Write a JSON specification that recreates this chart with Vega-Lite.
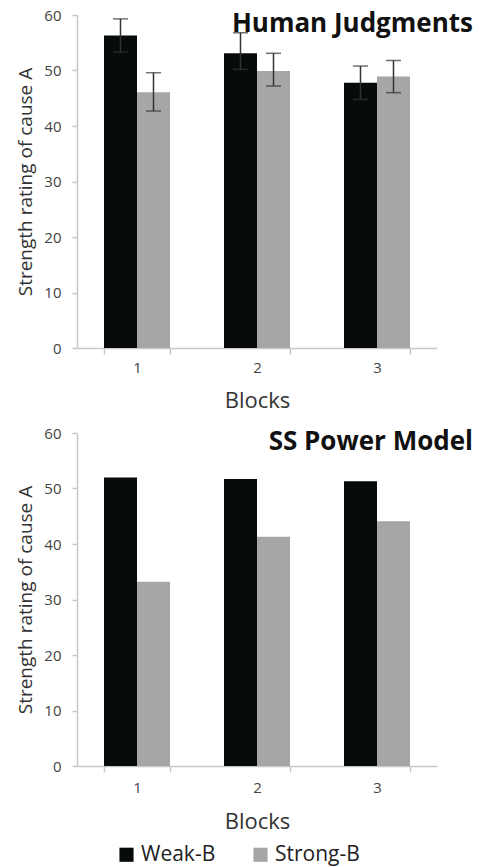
{
  "$schema": "https://vega.github.io/schema/vega-lite/v6.json",
  "padding": {"left": 16, "top": 8, "right": 8, "bottom": 1},
  "datasets": {
    "human": [
      {"block": "1", "group": "Weak-B", "value": 56.3, "lo": 53.3, "hi": 59.3},
      {"block": "1", "group": "Strong-B", "value": 46.1, "lo": 42.7, "hi": 49.6},
      {"block": "2", "group": "Weak-B", "value": 53.1, "lo": 50.2, "hi": 56.8},
      {"block": "2", "group": "Strong-B", "value": 49.9, "lo": 47.2, "hi": 53.1},
      {"block": "3", "group": "Weak-B", "value": 47.8, "lo": 44.8, "hi": 50.8},
      {"block": "3", "group": "Strong-B", "value": 48.9, "lo": 46.0, "hi": 51.8}
    ],
    "model": [
      {"block": "1", "group": "Weak-B", "value": 52.0},
      {"block": "1", "group": "Strong-B", "value": 33.2},
      {"block": "2", "group": "Weak-B", "value": 51.7},
      {"block": "2", "group": "Strong-B", "value": 41.3},
      {"block": "3", "group": "Weak-B", "value": 51.3},
      {"block": "3", "group": "Strong-B", "value": 44.1}
    ]
  },
  "spacing": 15,
  "vconcat": [
    {
      "width": 360,
      "height": 333,
      "title": {"text": "Human Judgments"},
      "data": {"name": "human"},
      "encoding": {
        "x": {"field": "block", "type": "nominal", "title": "Blocks", "scale": {"paddingInner": 0.45, "paddingOuter": 0.225}, "axis": {"labelAngle": 0, "tickBand": "extent"}},
        "xOffset": {"field": "group", "type": "nominal", "sort": ["Weak-B", "Strong-B"], "scale": {"paddingInner": 0}}
      },
      "layer": [
        {
          "mark": {"type": "bar"},
          "encoding": {
            "y": {"field": "value", "type": "quantitative", "title": "Strength rating of cause A", "scale": {"domain": [0, 60]}, "axis": {"values": [0, 10, 20, 30, 40, 50, 60]}},
            "color": {"field": "group", "type": "nominal", "sort": ["Weak-B", "Strong-B"], "scale": {"domain": ["Weak-B", "Strong-B"], "range": ["#070b0b", "#a6a6a6"]}, "legend": {"title": null, "orient": "none", "legendX": 39, "legendY": 829, "direction": "horizontal", "symbolType": "square", "symbolSize": 200, "labelFontSize": 21, "labelFont": "Open Sans", "labelColor": "#222", "columnPadding": 34, "symbolStrokeWidth": 0}}
          }
        },
        {
          "mark": {"type": "rule", "color": "#333", "strokeWidth": 1.5},
          "encoding": {
            "y": {"field": "lo", "type": "quantitative", "title": "Strength rating of cause A", "scale": {"domain": [0, 60]}},
            "y2": {"field": "hi"}
          }
        },
        {
          "mark": {"type": "tick", "color": "#333", "size": 15, "thickness": 1.5},
          "encoding": {
            "y": {"field": "lo", "type": "quantitative", "title": "Strength rating of cause A", "scale": {"domain": [0, 60]}}
          }
        },
        {
          "mark": {"type": "tick", "color": "#333", "size": 15, "thickness": 1.5},
          "encoding": {
            "y": {"field": "hi", "type": "quantitative", "title": "Strength rating of cause A", "scale": {"domain": [0, 60]}}
          }
        }
      ]
    },
    {
      "width": 360,
      "height": 333,
      "title": {"text": "SS Power Model"},
      "data": {"name": "model"},
      "mark": {"type": "bar"},
      "encoding": {
        "x": {"field": "block", "type": "nominal", "title": "Blocks", "scale": {"paddingInner": 0.45, "paddingOuter": 0.225}, "axis": {"labelAngle": 0, "tickBand": "extent", "labelPadding": 8, "titlePadding": 16}},
        "xOffset": {"field": "group", "type": "nominal", "sort": ["Weak-B", "Strong-B"], "scale": {"paddingInner": 0}},
        "y": {"field": "value", "type": "quantitative", "title": "Strength rating of cause A", "scale": {"domain": [0, 60]}, "axis": {"values": [0, 10, 20, 30, 40, 50, 60]}},
        "color": {"field": "group", "type": "nominal", "sort": ["Weak-B", "Strong-B"], "scale": {"domain": ["Weak-B", "Strong-B"], "range": ["#070b0b", "#a6a6a6"]}, "legend": {"title": null, "orient": "none", "legendX": 39, "legendY": 829, "direction": "horizontal", "symbolType": "square", "symbolSize": 200, "labelFontSize": 21, "labelFont": "Open Sans", "labelColor": "#222", "columnPadding": 34, "symbolStrokeWidth": 0}}
      }
    }
  ],
  "config": {
    "view": {"stroke": null},
    "axis": {"domainColor": "#c8c8c8", "tickColor": "#c8c8c8", "labelColor": "#444", "labelFont": "Open Sans", "titleFont": "Open Sans", "titleFontWeight": "normal", "titleColor": "#333", "labelFontSize": 15, "titleFontSize": 19, "grid": false, "domainWidth": 1.5, "tickWidth": 1.5},
    "axisY": {"tickSize": 5, "labelPadding": 11, "titlePadding": 8},
    "axisX": {"tickSize": 6, "labelPadding": 6, "titlePadding": 15, "titleFontSize": 22},
    "title": {"anchor": "end", "font": "Open Sans", "fontSize": 26, "fontWeight": "bold", "color": "#111", "baseline": "middle", "offset": 0, "dy": 33, "dx": 36}
  }
}
